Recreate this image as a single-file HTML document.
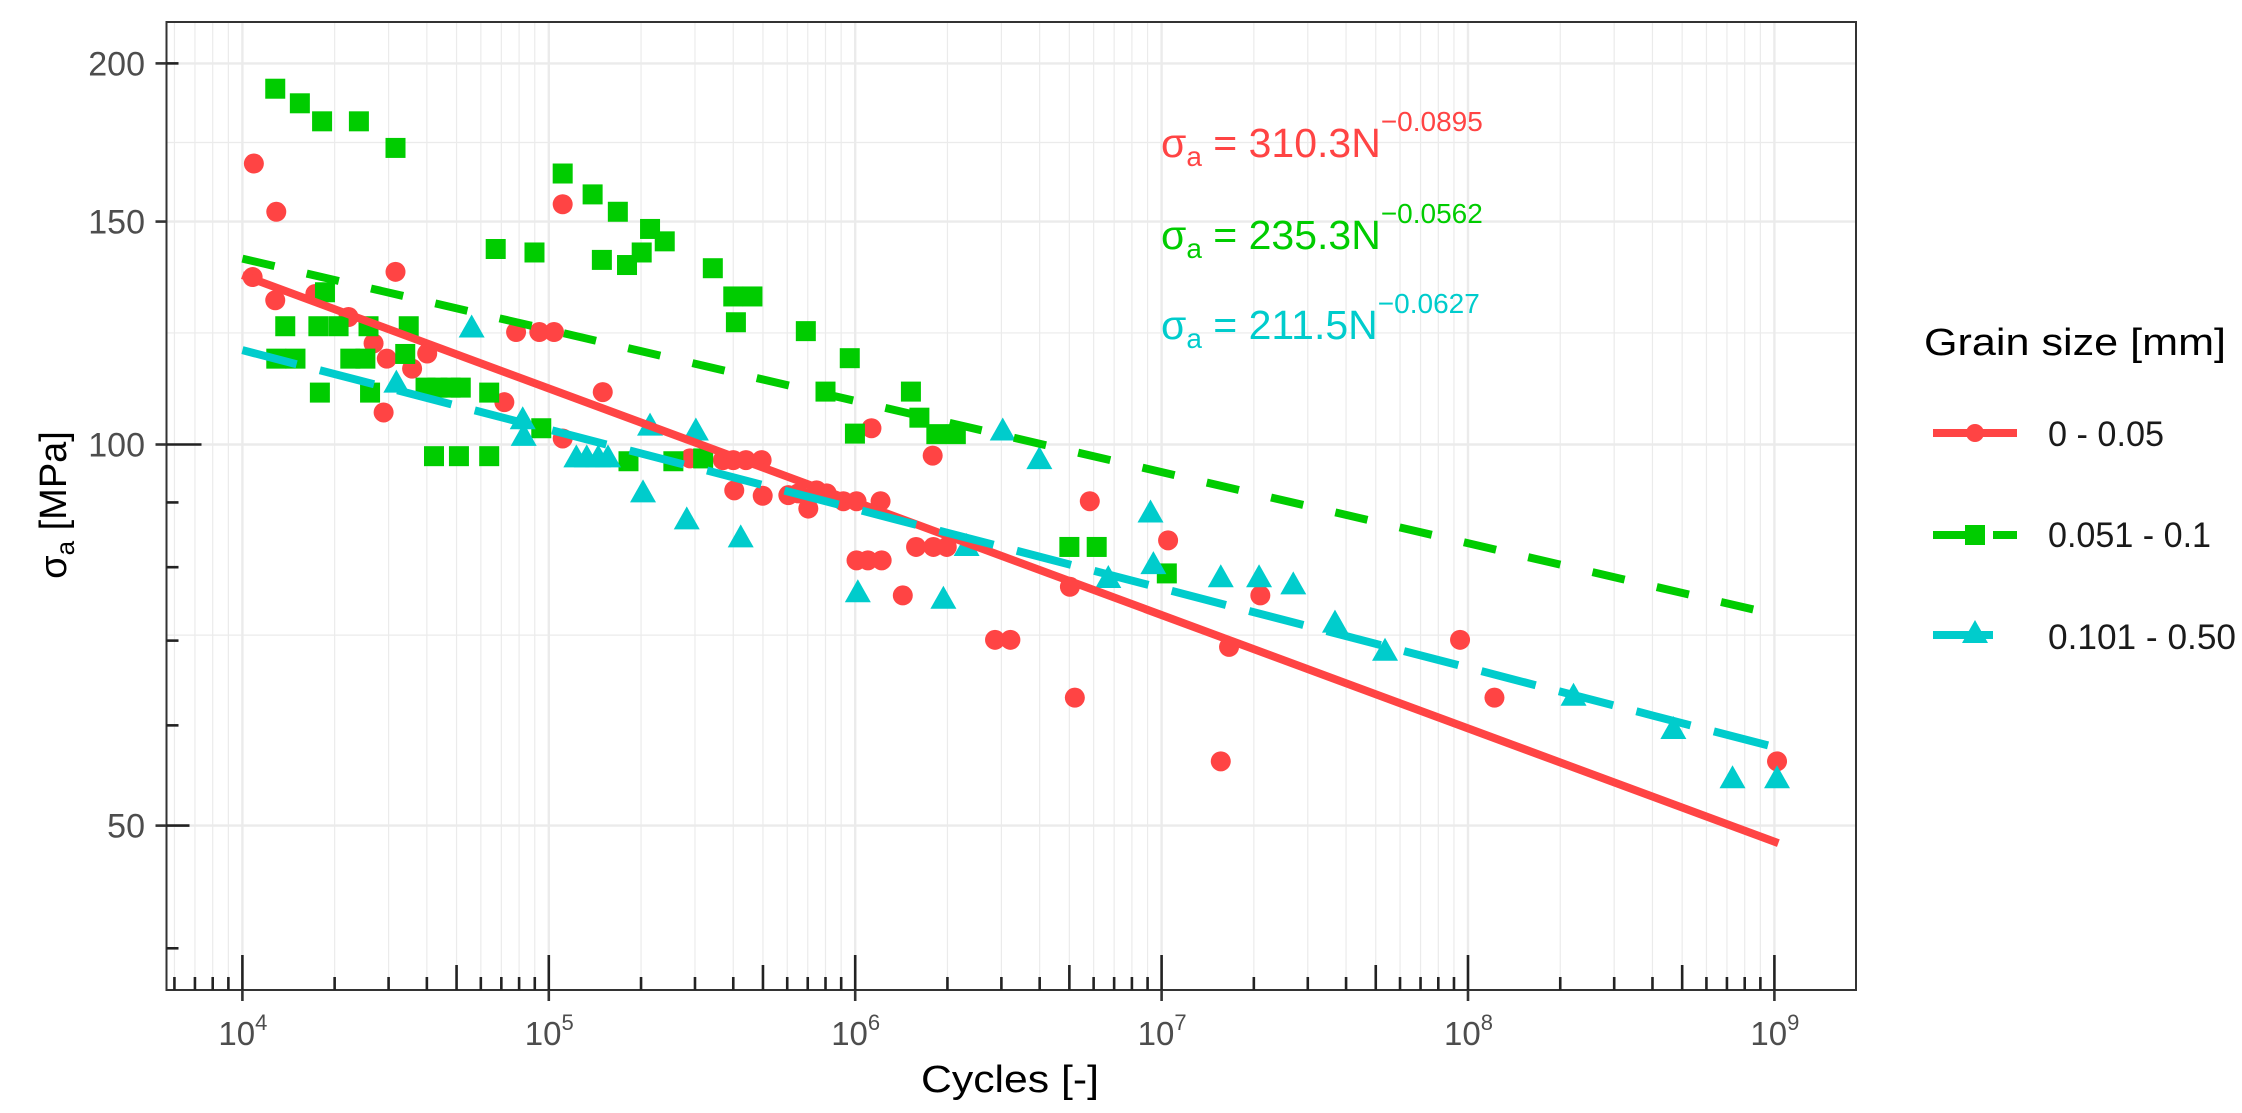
<!DOCTYPE html>
<html><head><meta charset="utf-8"><style>
html,body{margin:0;padding:0;background:#fff;}
svg{display:block;font-family:"Liberation Sans",Arial,sans-serif;}
</style></head><body>
<svg id="chart" width="2242" height="1113" viewBox="0 0 2242 1113" xmlns="http://www.w3.org/2000/svg">
<rect x="0" y="0" width="2242" height="1113" fill="#fff"/>
<g id="grid"></g>
<g id="points"></g>
<g id="lines"></g>
<rect x="166.5" y="22" width="1689.5" height="968" fill="none" stroke="#333" stroke-width="2"/>
<g id="ticks"></g>
<g id="labels"></g>
<text x="1010" y="1092" font-size="38" fill="#000" text-anchor="middle" textLength="178" lengthAdjust="spacingAndGlyphs">Cycles [-]</text>
<text transform="translate(66,505) rotate(-90)" font-size="38" fill="#000" text-anchor="middle">σ<tspan font-size="26" dy="8">a</tspan><tspan dy="-8"> [MPa]</tspan></text>
<g>
<text x="1161" y="157" font-size="41" fill="#ff4444">σ<tspan font-size="28" dy="9">a</tspan><tspan dy="-9"> = 310.3N</tspan><tspan font-size="28" dy="-26">−0.0895</tspan></text>
<text x="1161" y="249" font-size="41" fill="#00cc00">σ<tspan font-size="28" dy="9">a</tspan><tspan dy="-9"> = 235.3N</tspan><tspan font-size="28" dy="-26">−0.0562</tspan></text>
<text x="1161" y="339" font-size="41" fill="#00cccc">σ<tspan font-size="28" dy="9">a</tspan><tspan dy="-9"> = 211.5N</tspan><tspan font-size="28" dy="-26">−0.0627</tspan></text>
</g>
<g>
<text x="1924" y="355" font-size="38" fill="#000" textLength="302" lengthAdjust="spacingAndGlyphs">Grain size [mm]</text>
<g>
<line x1="1933" y1="433" x2="2017" y2="433" stroke="#ff4444" stroke-width="8"/>
<circle cx="1975" cy="433" r="9" fill="#ff4444"/>
<text x="2048" y="446" font-size="35" fill="#1a1a1a" textLength="116" lengthAdjust="spacingAndGlyphs">0 - 0.05</text>
</g>
<g>
<line x1="1933" y1="535" x2="2017" y2="535" stroke="#00cc00" stroke-width="8" stroke-dasharray="42 18"/>
<rect x="1965" y="525" width="20" height="20" fill="#00cc00"/>
<text x="2048" y="547" font-size="35" fill="#1a1a1a" textLength="163" lengthAdjust="spacingAndGlyphs">0.051 - 0.1</text>
</g>
<g>
<line x1="1933" y1="635" x2="1993" y2="635" stroke="#00cccc" stroke-width="8"/>
<polygon points="1975,620 1988,643 1962,643" fill="#00cccc"/>
<text x="2048" y="649" font-size="35" fill="#1a1a1a" textLength="188" lengthAdjust="spacingAndGlyphs">0.101 - 0.50</text>
</g>
</g>
</svg>
<script>
const redN=[1.09e4,1.29e4,1.08e4,1.28e4,3.16e4,1.11e5,1.73e4,2.22e4,2.68e4,2.96e4,3.58e4,4.01e4,2.89e4,7.16e4,7.82e4,9.31e4,1.04e5,1.50e5,1.11e5,
1.13e6,1.79e6,2.89e5,3.7e5,4.0e5,4.4e5,4.95e5,4.03e5,4.99e5,6.05e5,6.52e5,7.03e5,7.48e5,8.07e5,9.15e5,1.01e6,1.21e6,1.01e6,1.10e6,1.22e6,1.58e6,1.80e6,1.99e6,1.43e6,2.86e6,3.21e6,5.83e6,5.02e6,5.21e6,1.05e7,
2.1e7,1.66e7,1.56e7,9.42e7,1.22e8,1.02e9];
const redS=[166.7,152.7,135.6,130,136.9,154.8,131.5,126.1,120.2,116.9,114.8,118,106,108,122.7,122.7,122.7,110,101.1,
103,98,97.5,97.2,97.2,97.2,97.2,92,91.1,91.2,91.5,89,92,91.5,90.2,90.2,90.2,81,81,81,83,83,83,76,70.1,70.1,90.2,77.2,63.1,84,
76,69.2,56.2,70.1,63.1,56.2];
const greenN=[1.28e4,1.54e4,1.82e4,2.40e4,3.16e4,1.11e5,1.39e5,1.68e5,2.14e5,2.39e5,2.01e5,1.80e5,1.49e5,6.71e4,8.98e4,1.86e4,1.38e4,1.77e4,2.06e4,2.58e4,3.49e4,1.29e4,1.49e4,2.25e4,2.52e4,3.40e4,1.79e4,2.61e4,3.96e4,4.33e4,4.78e4,5.16e4,6.39e4,9.45e4,4.22e4,5.09e4,6.39e4,1.82e5,2.55e5,
3.43e5,4.0e5,4.62e5,4.08e5,6.9e5,9.6e5,8.0e5,9.98e5,1.52e6,1.62e6,1.84e6,2.13e6,5.0e6,6.14e6,1.04e7,3.19e5];
const greenS=[191,186,180,180,171.5,163.7,157.6,152.7,148,144.7,141.8,138.6,139.9,142.7,141.8,131.9,124,124,124,124,124,116.9,116.9,116.9,116.9,117.9,109.9,109.9,110.9,110.9,110.9,110.9,109.9,103,97.9,97.9,97.9,97,97,
137.8,130.9,130.9,124.9,122.9,117,110.1,102,110.1,105,101.9,101.9,83,83,79.1,97.5];
const cyanN=[5.6e4,3.18e4,8.22e4,8.28e4,1.23e5,1.33e5,1.45e5,1.56e5,2.03e5,2.14e5,2.82e5,3.02e5,4.23e5,1.02e6,1.94e6,3.03e6,3.99e6,9.2e6,9.4e6,6.7e6,2.31e6,1.56e7,2.08e7,2.69e7,3.68e7,5.36e7,2.21e8,4.68e8,7.3e8,1.02e9];
const cyanS=[123.5,111.7,104.5,101.4,97.5,97.5,97.5,97.5,91.5,103.3,87.1,102.4,84.3,76.3,75.4,102.4,97.2,88.2,80.3,78.3,83,78.4,78.4,77.4,72.2,68.6,63.2,59.5,54.4,54.4];
const fitA=[310.3,235.3,211.5];
const fitB=[-0.0895,-0.0562,-0.0627];
const fitStart=[1.0e4,1.0e4,1.0e4];
const fitEnd=[1.03e9,1.03e9,1.03e9];
const yMajor=[200,150,100,50];
const yMinor=[173.2,122.5,70.7];
const xDecades=[4,5,6,7,8,9];

const NS='http://www.w3.org/2000/svg';
const L=166.5,R=1856,T=22,B=990;
const X=n=>242.4+306.4*(Math.log10(n)-4);
const Y=v=>444.5-1266*Math.log10(v/100);
function mk(tag,attrs,parent){const e=document.createElementNS(NS,tag);for(const k in attrs)e.setAttribute(k,attrs[k]);parent.appendChild(e);return e;}
const grid=document.getElementById('grid');
for(let e=3;e<=9;e++)for(let k=1;k<=9;k++){const n=k*Math.pow(10,e);const x=X(n);if(x<L||x>R)continue;
const ln=mk('line',{x1:x,x2:x,y1:T,y2:B,stroke:'#ebebeb','stroke-width':k===1?2.4:1.2},grid);

}
yMajor.forEach(v=>{const ln=mk('line',{x1:L,x2:R,y1:Y(v),y2:Y(v),stroke:'#ebebeb','stroke-width':2.4},grid);

});
yMinor.forEach(v=>{const ln=mk('line',{x1:L,x2:R,y1:Y(v),y2:Y(v),stroke:'#ebebeb','stroke-width':1.2},grid);

});

const pts=document.getElementById('points');
redN.forEach((n,i)=>{const c=mk('circle',{cx:X(n),cy:Y(redS[i]),r:10,fill:'#ff4444'},pts);

});
greenN.forEach((n,i)=>{const x=X(n),y=Y(greenS[i]);const r=mk('rect',{x:x-10,y:y-10,width:20,height:20,fill:'#00cc00'},pts);

});
cyanN.forEach((n,i)=>{const x=X(n),y=Y(cyanS[i]);const p=mk('polygon',{points:`${x},${y-14} ${x+13},${y+9} ${x-13},${y+9}`,fill:'#00cccc'},pts);

});

const lines=document.getElementById('lines');
const cols=['#ff4444','#00cc00','#00cccc'];
const dashes=['none','33 33','56 24'];
const lnames=['fit-line-red','fit-line-green','fit-line-cyan'];
for(let s=0;s<3;s++){const s0=fitA[s]*Math.pow(fitStart[s],fitB[s]);const s1=fitA[s]*Math.pow(fitEnd[s],fitB[s]);
const ln=mk('line',{x1:X(fitStart[s]),y1:Y(s0),x2:X(fitEnd[s]),y2:Y(s1),stroke:cols[s],'stroke-width':8,'stroke-dasharray':dashes[s]},lines);

}

const ticks=document.getElementById('ticks');
for(let e=3;e<=9;e++)for(let k=1;k<=9;k++){const n=k*Math.pow(10,e);const x=X(n);if(x<L||x>R)continue;
const len=k===1?35:(k===5?25:13);
const t=mk('line',{x1:x,x2:x,y1:B,y2:B-len,stroke:'#222','stroke-width':2.6},ticks);

}
xDecades.forEach(d=>{const t=mk('line',{x1:X(Math.pow(10,d)),x2:X(Math.pow(10,d)),y1:B,y2:B+11,stroke:'#333','stroke-width':2.6},ticks);

});
for(let e=1;e<=2;e++)for(let k=1;k<=9;k++){const v=k*Math.pow(10,e);const y=Y(v);if(y<T||y>B)continue;
const len=k===1?35:(k===5?23:12);
const t=mk('line',{x1:L,x2:L+len,y1:y,y2:y,stroke:'#222','stroke-width':2.6},ticks);

}
yMajor.forEach(v=>{const t=mk('line',{x1:L-11,x2:L,y1:Y(v),y2:Y(v),stroke:'#333','stroke-width':2.6},ticks);

});

const labs=document.getElementById('labels');
yMajor.forEach(v=>{const t=mk('text',{x:145,y:Y(v)+12,'font-size':34,fill:'#4d4d4d','text-anchor':'end'},labs);t.textContent=String(v);

});
xDecades.forEach(d=>{const x=X(Math.pow(10,d));const t=mk('text',{x:x-24,y:1045,'font-size':33,fill:'#4d4d4d'},labs);
t.textContent='10';
const sp=mk('tspan',{'font-size':22,dy:-15},t);sp.textContent=String(d);

});
</script>
</body></html>
